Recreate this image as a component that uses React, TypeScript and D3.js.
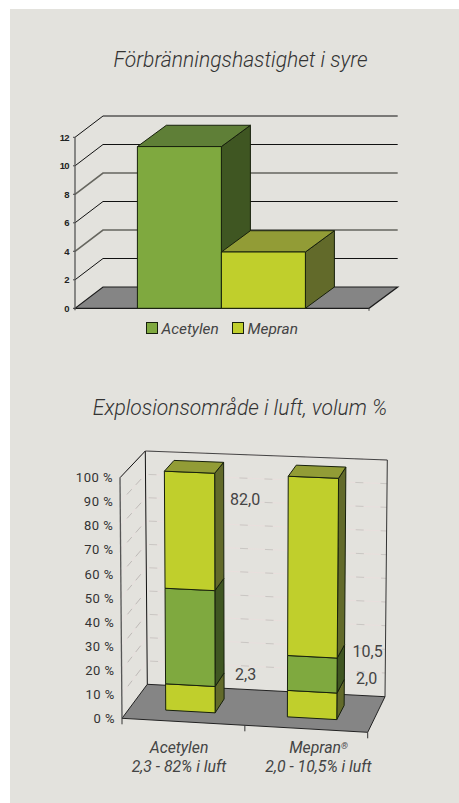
import React from 'react';
import * as d3 from 'd3';

// first chart
const speedCategories = ['Acetylen', 'Mepran'];
const speedValues = [11.35, 3.95];
const speedTicks = [0, 2, 4, 6, 8, 10, 12];

// second chart, heights as drawn in the picture (%)
const rangeCategories = ['Acetylen', 'Mepran'];
const rangeCaptions = ['2,3 - 82% i luft', '2,0 - 10,5% i luft'];
const lowerPart = [11, 11];
const middlePart = [40, 14.5];
const upperPart = [49, 74.5];
const rangeTicks = [0, 10, 20, 30, 40, 50, 60, 70, 80, 90, 100];
const rangeTickLabels = ['0 %', '10 %', '20 %', '30 %', '40 %', '50 %', '60 %', '70 %', '80 %', '90 %', '100 %'];

const GREEN = { front: '#7fa93f', top: '#5f7f37', side: '#3f5622' };
const YELLOW = { front: '#c0cf2c', top: '#929c36', side: '#626a2a' };
const LINE = '#17200c';
const TEXT = '#444444';
const FONT = 'Roboto, sans-serif';

const poly = d3.line().curve(d3.curveLinearClosed);

function SpeedChart() {
  const x0 = 75;
  const x1 = 369;
  const dx = 28;
  const dy = 21.3;
  const y = d3.scaleLinear().domain([0, 12]).range([308.3, 137.3]);
  const x = d3.scaleBand().domain(speedCategories).range([x0 - 0.6, x1 - 0.6]).paddingInner(0).paddingOuter(0.75);
  const colors = [GREEN, YELLOW];
  return (
    <g>
      {speedTicks.map((t, i) => (
        <g key={t}>
          {t > 0 && (
            <polyline
              points={`${x0},${y(t)} ${x0 + dx},${y(t) - dy} 397.7,${y(t) - dy}`}
              fill="none"
              stroke={t === 4 || t === 8 ? '#66665f' : '#111'}
              strokeWidth={t === 4 || t === 8 ? 1.6 : 1}
            />
          )}
          <line x1={x0 - 2} x2={x0} y1={y(t)} y2={y(t)} stroke="#444" />
          <text x={69} y={y(t) + 3.2} textAnchor="end" fontFamily="'Liberation Sans', sans-serif" fontWeight="bold" fontSize={9.5} letterSpacing={-0.6} fill="#222">
            {speedTicks[i]}
          </text>
        </g>
      ))}
      <path
        d={poly([[x0, y(0)], [x1, y(0)], [x1 + dx + 0.7, y(0) - dy], [x0 + dx, y(0) - dy]]) as string}
        fill="#858585"
        stroke="#1c1c1c"
        strokeWidth={1.2}
      />
      <line x1={x0} x2={x0} y1={y(12)} y2={y(0) + 2} stroke="#555" strokeWidth={1.3} />
      <line x1={x1} x2={x1} y1={y(0)} y2={y(0) + 2.5} stroke="#444" />
      {speedCategories.map((c, i) => {
        const l = x(c) as number;
        const r = l + x.bandwidth();
        const t = y(speedValues[i]);
        const b = y(0);
        const faces = [
          { fill: colors[i].side, pts: [[r, t], [r + dx + 1, t - dy], [r + dx + 1, b - dy], [r, b]] },
          { fill: colors[i].top, pts: [[l, t], [l + dx + 1, t - dy], [r + dx + 1, t - dy], [r, t]] },
          { fill: colors[i].front, pts: [[l, t], [r, t], [r, b], [l, b]] },
        ];
        return faces.map((f, k) => (
          <path key={c + k} d={poly(f.pts as [number, number][]) as string} fill={f.fill} stroke={LINE} strokeWidth={1} strokeLinejoin="round" />
        ));
      })}
      {speedCategories.map((c, i) => {
        const lx = i === 0 ? 146.5 : 232.5;
        return (
          <g key={c}>
            <rect x={lx} y={322.5} width={11} height={11} fill={colors[i].front} stroke={LINE} />
            <text x={lx + 15} y={334} fontFamily={FONT} fontStyle="italic" fontSize={15.4} fill={TEXT}>
              {c}
            </text>
          </g>
        );
      })}
    </g>
  );
}

// floor corners and height of the walls, the box is drawn with a slight perspective
const mix = (a: number, b: number, t: number) => d3.interpolateNumber(a, b)(t);

function project(u: number, v: number, h: number): [number, number] {
  const fx = mix(mix(122, 367.7, u), mix(147.3, 385, u), v);
  const fy = mix(mix(718.3, 732.3, u), mix(684.3, 696.7, u), v);
  const hx = mix(mix(-2, 2.5, u), mix(-2, 2.3, u), v);
  const hy = mix(mix(-240.6, -244, u), mix(-233.3, -236.7, u), v);
  return [fx + (hx * h) / 100, fy + (hy * h) / 100];
}

function RangeChart() {
  const u = d3.scaleBand().domain(rangeCategories).range([0, 1]).paddingInner(0.594).paddingOuter(0.297);
  const rows = rangeCategories.map((c, i) => ({ c, lower: lowerPart[i], middle: middlePart[i], upper: upperPart[i] }));
  const stacked = d3.stack<any>().keys(['lower', 'middle', 'upper'])(rows);
  const segColors = [YELLOW, GREEN, YELLOW];
  const v0 = 0.3;
  const v1 = 0.7;
  const seg = (a: [number, number], b: [number, number]) => `M${a[0]},${a[1]}L${b[0]},${b[1]}`;
  return (
    <g>
      {rangeTicks.slice(1).map((t) => (
        <g key={t} fill="none">
          <path d={seg(project(0, 0, t), project(0, 1, t))} stroke="#e9dfdd" />
          <path d={seg(project(0, 0, t), project(0, 1, t))} stroke="#bdbbb7" strokeDasharray="7 6 8 50" strokeDashoffset={-10} />
          <path d={seg(project(0, 1, t), project(1, 1, t))} stroke="#e9dfdd" />
          <path d={seg(project(0, 1, t), project(1, 1, t))} stroke="#c9c7c3" strokeDasharray="8 25 8 17" strokeDashoffset={-3} />
        </g>
      ))}
      <path d={poly([project(0, 0, 0), project(1, 0, 0), project(1, 1, 0), project(0, 1, 0)]) as string} fill="#858585" stroke="#222" strokeWidth={1} />
      <g fill="none" stroke="#111">
        <path d={seg(project(0, 0, 0), project(0, 0, 100))} stroke="#555" strokeWidth={1.3} />
        <path d={seg(project(0, 0, 100), project(0, 1, 100))} />
        <path d={seg(project(0, 1, 0), project(0, 1, 100))} />
        <path d={seg(project(0, 1, 100), project(1, 1, 100))} stroke="#444" />
        <path d={seg(project(1, 1, 0), project(1, 1, 100))} stroke="#333" />
        {[0, 0.5, 1].map((t) => {
          const p = project(t, 0, 0);
          return <path key={t} d={seg(p, [p[0], p[1] + 6])} stroke="#333" />;
        })}
      </g>
      {rangeCategories.map((c, i) => {
        const l = u(c) as number;
        const r = l + u.bandwidth();
        return stacked.map((s, k) => {
          const [h0, h1] = s[i];
          const faces = [
            { fill: segColors[k].side, pts: [project(r, v0, h1), project(r, v1, h1), project(r, v1, h0), project(r, v0, h0)] },
            { fill: segColors[k].front, pts: [project(l, v0, h1), project(r, v0, h1), project(r, v0, h0), project(l, v0, h0)] },
          ];
          if (k === stacked.length - 1) {
            faces.push({ fill: segColors[k].top, pts: [project(l, v0, h1), project(l, v1, h1), project(r, v1, h1), project(r, v0, h1)] });
          }
          return faces.map((f, j) => (
            <path key={`${c}${k}${j}`} d={poly(f.pts) as string} fill={f.fill} stroke={LINE} strokeWidth={1} strokeLinejoin="round" />
          ));
        });
      })}
      {rangeTicks.map((t, i) => {
        const p = project(0, 0, t);
        return (
          <text key={t} x={p[0] - 7} y={p[1] + 4.6} textAnchor="end" fontFamily={FONT} fontSize={13} letterSpacing={0.5} fill="#333">
            {rangeTickLabels[i]}
          </text>
        );
      })}
      <text x={230} y={505} fontFamily={FONT} fontSize={16} fill={TEXT}>82,0</text>
      <text x={235} y={680} fontFamily={FONT} fontSize={16} fill={TEXT}>2,3</text>
      <text x={352.5} y={657} fontFamily={FONT} fontSize={16} fill={TEXT}>10,5</text>
      <text x={356} y={684} fontFamily={FONT} fontSize={16} fill={TEXT}>2,0</text>
      {rangeCategories.map((c, i) => {
        const cx = i === 0 ? 179 : 318.5;
        return (
          <text key={c} textAnchor="middle" fontFamily={FONT} fontStyle="italic" fontSize={15.8} fill={TEXT}>
            <tspan x={cx} y={753}>
              {c}
              {i === 1 && <tspan fontSize={9} dy={-4}>®</tspan>}
            </tspan>
            <tspan x={cx} y={772}>{rangeCaptions[i]}</tspan>
          </text>
        );
      })}
    </g>
  );
}

export default function App() {
  return (
    <svg width={459} height={803} style={{ position: 'absolute', left: 0, top: 0, background: '#fff' }}>
      <rect x={10} y={9} width={449} height={794} fill="#e3e2dd" />
      <text x={240.5} y={67} textAnchor="middle" fontFamily={FONT} fontStyle="italic" fontWeight={300} fontSize={21.1} fill="#333">
        Förbränningshastighet i syre
      </text>
      <text x={240} y={415} textAnchor="middle" fontFamily={FONT} fontStyle="italic" fontWeight={300} fontSize={21.1} fill="#333">
        Explosionsområde i luft, volum %
      </text>
      <SpeedChart />
      <RangeChart />
    </svg>
  );
}
